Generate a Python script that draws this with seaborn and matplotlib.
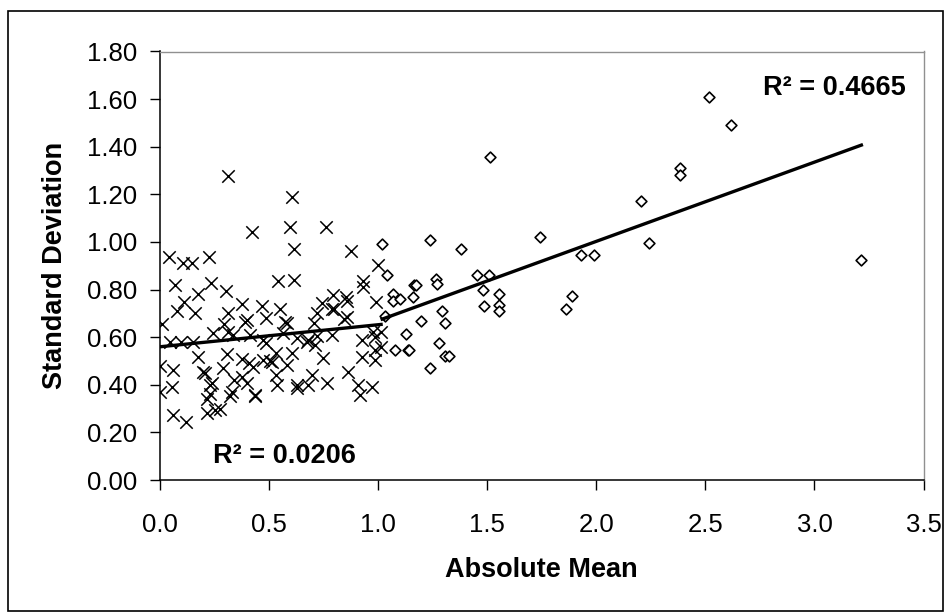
import matplotlib
matplotlib.use("Agg")
import matplotlib.pyplot as plt
import seaborn as sns
import numpy as np
import pandas as pd
from matplotlib.patches import Rectangle
from matplotlib.ticker import FormatStrFormatter

plt.rcParams['font.family'] = ['Liberation Sans', 'DejaVu Sans']

# ---- data: series with |mean| < 1 (x markers) ----
low_mean = [0.312, 0.605, 0.425, 0.596, 0.761, 0.615, 0.875, 0.045, 0.227, 0.109,
            0.147, 1.003, 0.072, 0.234, 0.544, 0.616, 0.931, 0.178, 0.305, 0.114,
            0.079, 0.163, 0.377, 0.468, 0.552, 0.312, 0.720, 0.743, 0.796, 0.853,
            0.934, 0.990, 0.010, 0.392, 0.488, 0.583, 0.708, 0.800, 0.857, 0.247,
            0.315, 0.564, 0.400, 0.048, 0.100, 0.155, 0.338, 0.415, 0.476, 0.628,
            0.789, 0.926, 0.987, 0.980, 0.674, 0.712, 0.178, 0.308, 0.377, 0.606,
            0.750, 0.926, 0.987, 0.987, 0.514, 0.476, 0.002, 0.063, 0.200, 0.292,
            0.430, 0.583, 0.865, 0.697, 0.377, 0.537, 0.628, 0.682, 0.766, 0.911,
            0.972, 0.918, 0.002, 0.056, 0.216, 0.437, 0.400, 0.239, 0.330, 0.063,
            0.120, 0.216, 0.277, 0.210, 0.230, 0.230, 0.325, 0.340, 0.410, 0.505,
            0.533, 0.490, 0.533, 0.436, 0.297, 0.575, 0.630, 0.680, 0.720, 0.790,
            0.847, 0.860, 0.255, 1.015, 1.015]
low_sd = [1.277, 1.190, 1.041, 1.064, 1.064, 0.971, 0.964, 0.938, 0.938, 0.910,
          0.910, 0.902, 0.819, 0.829, 0.836, 0.840, 0.836, 0.781, 0.795, 0.749,
          0.709, 0.700, 0.739, 0.731, 0.717, 0.700, 0.703, 0.742, 0.777, 0.770,
          0.812, 0.746, 0.655, 0.665, 0.679, 0.661, 0.661, 0.718, 0.686, 0.616,
          0.623, 0.619, 0.672, 0.581, 0.581, 0.581, 0.609, 0.609, 0.588, 0.595,
          0.609, 0.588, 0.602, 0.623, 0.581, 0.567, 0.518, 0.529, 0.508, 0.535,
          0.511, 0.518, 0.504, 0.546, 0.497, 0.504, 0.479, 0.462, 0.455, 0.469,
          0.476, 0.483, 0.455, 0.441, 0.434, 0.399, 0.385, 0.399, 0.406, 0.399,
          0.392, 0.357, 0.371, 0.392, 0.339, 0.357, 0.406, 0.406, 0.371, 0.273,
          0.245, 0.283, 0.298, 0.450, 0.400, 0.360, 0.352, 0.418, 0.490, 0.500,
          0.533, 0.574, 0.443, 0.352, 0.656, 0.664, 0.397, 0.590, 0.607, 0.720,
          0.675, 0.750, 0.295, 0.620, 0.560]

# ---- data: series with |mean| >= 1 (diamond markers) ----
high_mean = [1.020, 1.240, 1.380, 1.040, 1.070, 1.070, 1.100, 1.160, 1.165, 1.175,
             1.265, 1.270, 1.035, 1.130, 1.200, 1.295, 1.310, 1.280, 1.080, 1.140,
             1.145, 1.310, 1.325, 1.240, 1.455, 1.510, 1.480, 1.485, 1.555, 1.555,
             1.555, 1.515, 1.745, 1.930, 1.990, 1.890, 1.860, 2.205, 2.240, 2.385,
             2.385, 2.515, 2.620, 3.215]
high_sd = [0.990, 1.010, 0.970, 0.860, 0.780, 0.750, 0.760, 0.770, 0.820, 0.820,
           0.845, 0.825, 0.690, 0.615, 0.670, 0.710, 0.660, 0.575, 0.545, 0.545,
           0.545, 0.520, 0.520, 0.470, 0.860, 0.860, 0.800, 0.730, 0.780, 0.735,
           0.710, 1.355, 1.020, 0.945, 0.945, 0.775, 0.720, 1.170, 0.995, 1.310,
           1.280, 1.610, 1.490, 0.925]

r2_low_label = "R² = 0.0206"
r2_high_label = "R² = 0.4665"
x_label = "Absolute Mean"
y_label = "Standard Deviation"

low_df = pd.DataFrame({"mean": low_mean, "sd": low_sd})
high_df = pd.DataFrame({"mean": high_mean, "sd": high_sd})

W, H = 951, 612
fig = plt.figure(figsize=(W / 100, H / 100), dpi=100)
fig.patch.set_facecolor("white")

# outer chart border
fig.patches.append(Rectangle((7.5 / W, 1 - 611 / H), (943 - 7.5) / W, (611 - 11) / H,
                             transform=fig.transFigure, fill=False,
                             edgecolor="black", linewidth=1.2))

left, right, top, bottom = 159.5, 923.6, 51.5, 480.0
ax = fig.add_axes([left / W, 1 - bottom / H, (right - left) / W, (bottom - top) / H])

sns.scatterplot(data=low_df, x="mean", y="sd", marker="x", s=80, color="black",
                linewidth=1.1, ax=ax, zorder=3)
sns.scatterplot(data=high_df, x="mean", y="sd", marker="D", s=30,
                facecolor="white", edgecolor="black", linewidth=1.2, ax=ax, zorder=3)

sns.regplot(data=low_df, x="mean", y="sd", scatter=False, ci=None, truncate=True,
            line_kws=dict(color="black", linewidth=2.4, zorder=4), ax=ax)
sns.regplot(data=high_df, x="mean", y="sd", scatter=False, ci=None, truncate=True,
            line_kws=dict(color="black", linewidth=2.4, zorder=4), ax=ax)

ax.set_xlim(0, 3.5)
ax.set_ylim(0, 1.8)
ax.set_xticks(np.arange(0, 3.51, 0.5))
ax.set_yticks(np.arange(0, 1.81, 0.2))
ax.xaxis.set_major_formatter(FormatStrFormatter("%.1f"))
ax.yaxis.set_major_formatter(FormatStrFormatter("%.2f"))
ax.tick_params(axis="both", direction="out", length=7, width=1, colors="black",
               labelsize=18.5)
ax.tick_params(axis="x", pad=17)
ax.tick_params(axis="y", pad=9)

for side in ["left", "bottom"]:
    ax.spines[side].set_color("black")
    ax.spines[side].set_linewidth(1.1)
for side in ["top", "right"]:
    ax.spines[side].set_color("#909090")
    ax.spines[side].set_linewidth(1.0)

ax.set_xlabel(x_label, fontsize=19.5, fontweight="bold", labelpad=14)
ax.set_ylabel(y_label, fontsize=19.5, fontweight="bold", labelpad=14)

ax.text(0.245, 0.10, r2_low_label, fontsize=19.5, fontweight="bold",
        ha="left", va="center")
ax.text(2.765, 1.645, r2_high_label, fontsize=19.5, fontweight="bold",
        ha="left", va="center")

fig.savefig("out.png", dpi=100)
